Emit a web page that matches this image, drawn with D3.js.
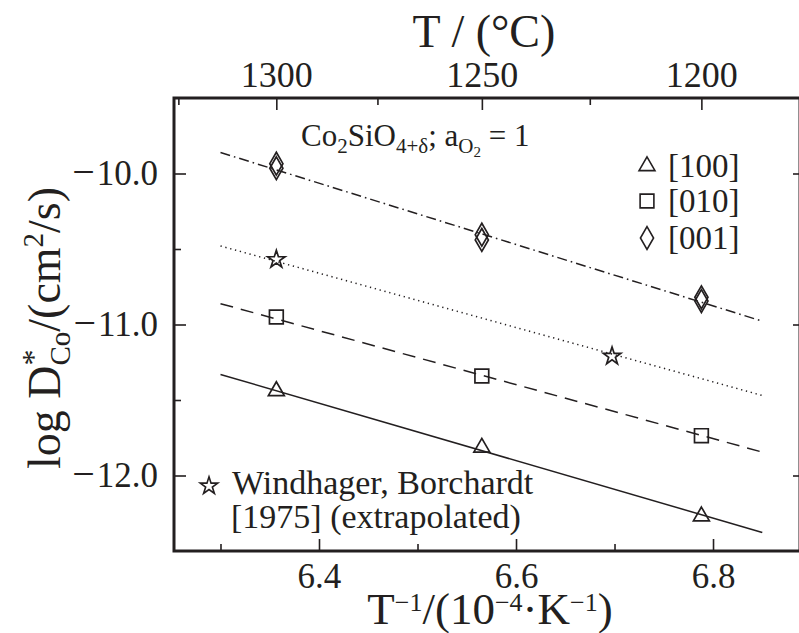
<!DOCTYPE html>
<html>
<head>
<meta charset="utf-8">
<script src="https://cdn.jsdelivr.net/npm/d3@7"></script>
<style>
  body { margin: 0; background: #fff; }
  svg text { font-family: "Liberation Serif", "Times New Roman", serif; fill: #231f20; }
</style>
</head>
<body>
<svg id="chart" width="799" height="633"></svg>
<script>
// Co tracer diffusion in Co2SiO4 (aO2 = 1): log D* versus reciprocal temperature

// measured points, x = 1/T in 1e-4 K^-1
const invT100 = [6.3567, 6.5653, 6.7882];
const logD100 = [-11.44, -11.815, -12.27];
const invT010 = [6.3567, 6.5653, 6.7882];
const logD010 = [-10.95, -11.341, -11.736];
const invT001 = [6.3567, 6.3567, 6.5653, 6.5653, 6.7882, 6.7882];
const logD001 = [-9.935, -9.965, -10.405, -10.44, -10.82, -10.845];
const invTWB = [6.3567, 6.6975];
const logDWB = [-10.57, -11.21];

// Arrhenius fit lines (end points)
const fit100 = [[6.30, -11.331], [6.85, -12.377]];
const fit010 = [[6.30, -10.862], [6.85, -11.845]];
const fit001 = [[6.30, -9.861], [6.85, -10.978]];
const fitWB  = [[6.30, -10.48], [6.85, -11.47]];

// axis ticks
const xMajor = [6.4, 6.6, 6.8];
const xMinor = [6.3, 6.5, 6.7];
const yMajor = [-12, -11, -10];
const yMinor = [-11.5, -10.5];
const tempMajor = [1300, 1250, 1200];
const tempMinor = [1325, 1275, 1225];

const legendLabels = ["[100]", "[010]", "[001]"];

const ink = "#231f20";
const mLeft = 174, mRight = 800, mTop = 98, mBottom = 551;

const x = d3.scaleLinear().domain([6.2528, 6.8883]).range([mLeft, mRight]);
const y = d3.scaleLinear().domain([-12.5, -9.5]).range([mBottom, mTop]);
const toInv = t => 1e4 / (t + 273.15);

const svg = d3.select("#chart");

function styleAxis(g, fontSize) {
  g.select(".domain").remove();
  g.selectAll(".tick line").attr("stroke", ink).attr("stroke-width", 1.6);
  g.selectAll(".tick text").attr("font-size", fontSize)
    .attr("font-family", "Liberation Serif, serif").attr("fill", ink);
  g.attr("font-family", null).attr("font-size", null);
}

// bottom axis
svg.append("g").attr("transform", `translate(0,${mBottom})`)
  .call(d3.axisBottom(x).tickValues(xMajor).tickSize(-12).tickPadding(12).tickFormat(d => d.toFixed(1)))
  .call(g => styleAxis(g, 35));
svg.append("g").attr("transform", `translate(0,${mBottom})`)
  .call(d3.axisBottom(x).tickValues(xMinor).tickSize(-7).tickFormat(""))
  .call(g => styleAxis(g, 35));

// top axis: temperature in degrees Celsius
svg.append("g").attr("transform", `translate(0,${mTop})`)
  .call(d3.axisTop(x).tickValues(tempMajor.map(toInv)).tickSize(-12).tickPadding(11)
    .tickFormat((d, i) => tempMajor[i]))
  .call(g => styleAxis(g, 36));
svg.append("g").attr("transform", `translate(0,${mTop})`)
  .call(d3.axisTop(x).tickValues(tempMinor.map(toInv)).tickSize(-7).tickFormat(""))
  .call(g => styleAxis(g, 35));

// left axis, with a wide minus sign
svg.append("g").attr("transform", `translate(${mLeft},0)`)
  .call(d3.axisLeft(y).tickValues(yMajor).tickSize(-12).tickPadding(16).tickFormat(d => Math.abs(d).toFixed(1)))
  .call(g => styleAxis(g, 35))
  .call(g => g.selectAll(".tick text").each(function () {
    const t = d3.select(this), v = t.text();
    t.text(null);
    t.append("tspan").attr("font-size", 40).text("\u2212");
    t.append("tspan").attr("dx", 2).text(v);
  }));
svg.append("g").attr("transform", `translate(${mLeft},0)`)
  .call(d3.axisLeft(y).tickValues(yMinor).tickSize(-7).tickFormat(""))
  .call(g => styleAxis(g, 35));

// right axis (ticks only)
svg.append("g").attr("transform", `translate(${mRight},0)`)
  .call(d3.axisRight(y).tickValues(yMajor).tickSize(-7).tickFormat(""))
  .call(g => styleAxis(g, 35));

// frame
svg.append("rect")
  .attr("x", mLeft).attr("y", mTop)
  .attr("width", mRight - mLeft).attr("height", mBottom - mTop)
  .attr("fill", "none").attr("stroke", ink).attr("stroke-width", 3);

// fit lines
const line = d3.line().x(d => x(d[0])).y(d => y(d[1]));
const fits = [
  { pts: fit100, dash: null },
  { pts: fit010, dash: "13,8" },
  { pts: fit001, dash: "10,4,1.6,4" },
  { pts: fitWB,  dash: "1.3,3.7" }
];
svg.append("g").selectAll("path").data(fits).join("path")
  .attr("d", d => line(d.pts))
  .attr("fill", "none").attr("stroke", ink).attr("stroke-width", 1.5)
  .attr("stroke-dasharray", d => d.dash);

// markers
const sym = (type, size) => d3.symbol().type(type).size(size)();
const triPath = sym(d3.symbolTriangle, 110);
const sqPath = sym(d3.symbolSquare, 190);
const diaPath = sym(d3.symbolDiamond, 150);
const starPath = sym(d3.symbolStar, 95);

function markers(xs, ys, path) {
  svg.append("g").selectAll("path").data(xs).join("path")
    .attr("d", path)
    .attr("transform", (d, i) => `translate(${x(d)},${y(ys[i])})`)
    .attr("fill", "none").attr("stroke", ink).attr("stroke-width", 1.7)
    .attr("stroke-linejoin", "miter");
}
markers(invT100, logD100, triPath);
markers(invT010, logD010, sqPath);
markers(invT001, logD001, diaPath);
markers(invTWB, logDWB, starPath);

// legend for crystal directions
const legendPaths = [triPath, sqPath, diaPath];
const legendY = [166, 201, 238];
legendLabels.forEach((lab, i) => {
  svg.append("path").attr("d", legendPaths[i])
    .attr("transform", `translate(647,${legendY[i]})`)
    .attr("fill", "none").attr("stroke", ink).attr("stroke-width", 1.6);
  svg.append("text").attr("x", 668).attr("y", legendY[i] + 11)
    .attr("font-size", 33).text(lab);
});

// composition / oxygen activity label
const title = svg.append("text").attr("x", 301).attr("y", 146).attr("font-size", 31);
title.append("tspan").text("Co");
title.append("tspan").attr("font-size", 21).attr("dy", 7).text("2");
title.append("tspan").attr("dy", -7).text("SiO");
title.append("tspan").attr("font-size", 21).attr("dy", 7).text("4+\u03b4");
title.append("tspan").attr("dy", -7).text("; a");
title.append("tspan").attr("font-size", 21).attr("dy", 7).text("O");
title.append("tspan").attr("font-size", 15).attr("dy", 4).text("2");
title.append("tspan").attr("dy", -11).text(" = 1");

// literature data note
svg.append("path").attr("d", starPath)
  .attr("transform", "translate(209,486)")
  .attr("fill", "none").attr("stroke", ink).attr("stroke-width", 1.6);
svg.append("text").attr("x", 232).attr("y", 494).attr("font-size", 34).text("Windhager, Borchardt");
svg.append("text").attr("x", 231).attr("y", 528).attr("font-size", 34).text("[1975] (extrapolated)");

// axis titles
svg.append("text").attr("x", 484).attr("y", 47).attr("text-anchor", "middle")
  .attr("font-size", 46).text("T / (\u00b0C)");

const xt = svg.append("text").attr("x", 490).attr("y", 624).attr("text-anchor", "middle").attr("font-size", 45);
xt.append("tspan").text("T");
xt.append("tspan").attr("font-size", 26).attr("dy", -13).text("\u22121");
xt.append("tspan").attr("dy", 13).text("/(10");
xt.append("tspan").attr("font-size", 26).attr("dy", -13).text("\u22124");
xt.append("tspan").attr("dy", 13).text("\u00b7K");
xt.append("tspan").attr("font-size", 26).attr("dy", -13).text("\u22121");
xt.append("tspan").attr("dy", 13).text(")");

const yt = svg.append("text").attr("transform", "translate(60,328) rotate(-90)")
  .attr("text-anchor", "middle").attr("font-size", 46);
yt.append("tspan").text("log D");
yt.append("tspan").attr("font-size", 32).attr("dy", -16).text("*");
yt.append("tspan").attr("font-size", 29).attr("dx", -16).attr("dy", 26).text("Co");
yt.append("tspan").attr("dy", -10).text("/(cm");
yt.append("tspan").attr("font-size", 29).attr("dy", -17).text("2");
yt.append("tspan").attr("dy", 17).text("/s)");
</script>
</body>
</html>
